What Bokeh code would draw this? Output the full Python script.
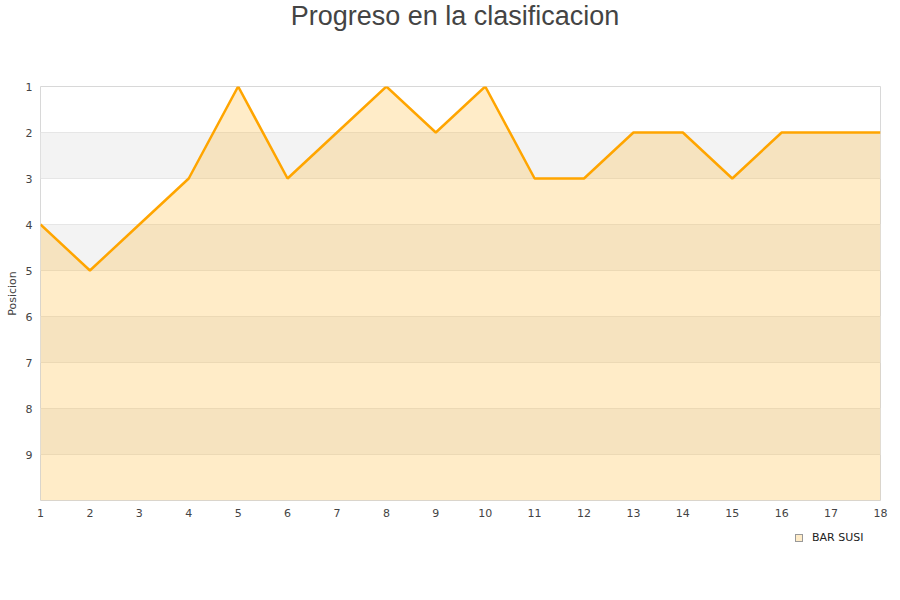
from bokeh.plotting import figure
from bokeh.models import Range1d, FixedTicker, Div
from bokeh.layouts import column
from bokeh.embed import file_html
from bokeh.resources import INLINE

jornadas = list(range(1, 19))
posicion = [4, 5, 4, 3, 1, 3, 2, 1, 2, 1, 3, 3, 2, 2, 3, 2, 2, 2]
y_ticks = list(range(1, 10))
serie = "BAR SUSI"
titulo = "Progreso en la clasificacion"
fondo = [10] * len(jornadas)

title_div = Div(text=titulo, width=900, height=32,
                styles={"font-family": "Liberation Sans", "font-size": "27px",
                        "color": "#444444", "text-align": "center",
                        "line-height": "23px", "width": "900px"})

p = figure(frame_width=840, frame_height=414, output_backend="svg", toolbar_location=None,
           x_range=Range1d(1, 18), y_range=Range1d(10, 1),
           min_border_left=40, min_border_right=20, min_border_top=44, min_border_bottom=0)

p.outline_line_color = "#d8d8d8"
p.outline_line_width = 1

p.xaxis.ticker = FixedTicker(ticks=jornadas)
p.yaxis.ticker = FixedTicker(ticks=y_ticks)
for ax in (p.xaxis[0], p.yaxis[0]):
    ax.axis_line_color = None
    ax.major_tick_line_color = None
    ax.minor_tick_line_color = None
    ax.major_tick_out = 0
    ax.major_tick_in = 0
    ax.minor_tick_out = 0
    ax.major_label_text_font = "DejaVu Sans"
    ax.major_label_text_font_size = "11px"
    ax.major_label_text_color = "#444444"
    ax.major_label_standoff = 8
p.yaxis.axis_label = "Posicion"
p.yaxis.axis_label_text_font = "DejaVu Sans"
p.yaxis.axis_label_text_font_size = "11px"
p.yaxis.axis_label_text_font_style = "normal"
p.yaxis.axis_label_text_color = "#444444"
p.yaxis.axis_label_standoff = 4

p.xgrid.grid_line_color = None
p.ygrid.ticker = FixedTicker(ticks=y_ticks + [10])
p.ygrid.grid_line_color = "#e6e6e6"
p.ygrid.band_fill_color = "#f3f3f3"
p.ygrid.band_fill_alpha = 1

p.varea(x=jornadas, y1=posicion, y2=fondo, fill_color="#ffb323", fill_alpha=0.25)
p.line(x=jornadas, y=posicion, line_color="#ffa500", line_width=2.5)

legend_html = (
    '<span style="display:inline-block;width:8px;height:8px;background:#ffecc8;'
    'border:1px solid #999999;margin-right:9px;vertical-align:middle;"></span>'
    '<span style="vertical-align:middle;">' + serie + '</span>'
)
legend_div = Div(text=legend_html, width=900, height=40,
                 styles={"font-family": "DejaVu Sans", "font-size": "11px",
                         "color": "#222222", "padding-left": "790px",
                         "padding-top": "7px", "line-height": "14px"})

layout = column(title_div, p, legend_div, spacing=0)

open("out.html", "w").write(file_html(layout, INLINE))
